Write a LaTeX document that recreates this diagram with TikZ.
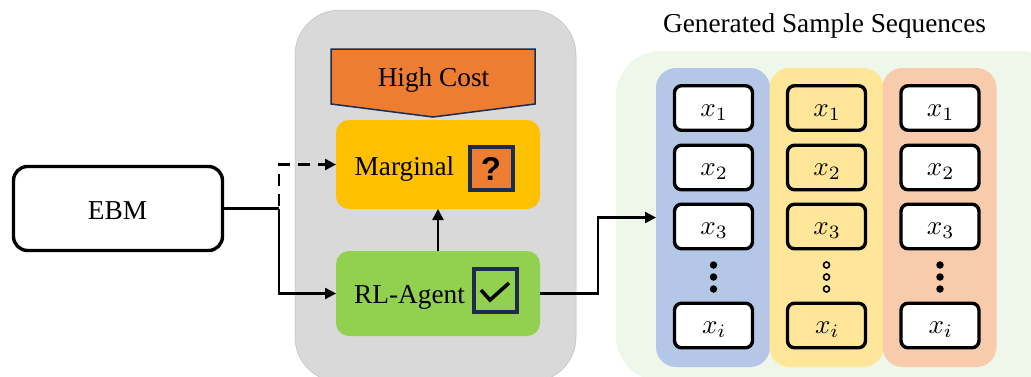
\documentclass[tikz,border=0pt]{standalone}
\usepackage{fontspec}
\setmainfont{Liberation Serif}
\newfontfamily\qfont{Liberation Sans}
\usetikzlibrary{arrows.meta,positioning}
\definecolor{navy}{HTML}{1B2C4C}
\definecolor{panelgray}{HTML}{D9D9D9}
\definecolor{panelgreen}{HTML}{EFF6EA}
\definecolor{costorange}{HTML}{ED7D31}
\definecolor{margyellow}{HTML}{FFC000}
\definecolor{agentgreen}{HTML}{92D050}
\definecolor{colblue}{HTML}{B4C7E7}
\definecolor{colyellow}{HTML}{FFE699}
\definecolor{colorange}{HTML}{F8CBAD}
\tikzset{
  x=1pt,y=-1pt,
  panel/.style={draw=none,rounded corners=#1,inner sep=0,outer sep=0},
  txt/.style={font=\fontsize{27.3}{30}\selectfont,inner sep=0,text=black},
  conn/.style={line width=2.4pt,-{Triangle[length=11pt,width=11pt]}},
  plainline/.style={line width=2.4pt},
  dashline/.style={line width=2.4pt,dash pattern=on 12pt off 8pt,dash phase=17pt,-{Triangle[length=11pt,width=11pt]}},
  sample/.style={draw=black,line width=3.4pt,rounded corners=7pt,minimum width=78pt,minimum height=44.5pt,inner sep=0,outer sep=0},
  whitebox/.style={sample,fill=white},
  yellowbox/.style={sample,fill=colyellow},
  soliddot/.style={circle,fill=black,minimum size=7.5pt,inner sep=0},
  ringdot/.style={circle,draw=black,line width=1.6pt,fill=colyellow,minimum size=6pt,inner sep=0},
  statusbox/.style={draw=navy,line width=4.4pt,minimum size=42.5pt,inner sep=0,outer sep=0},
}
\newcommand{\smplabel}[1]{\hspace{1.5pt}\raisebox{-8pt}[0pt][0pt]{\scalebox{2.7}{$#1$}}}
\begin{document}
\begin{tikzpicture}
\useasboundingbox (0,0) rectangle (1031,376);
\clip (0,0) rectangle (1031,376);
\fill[white] (0,0) rectangle (1031,376);
% panels
\node[panel=45pt,fill=panelgray,draw=black!25,line width=.5pt,minimum width=281pt,minimum height=372pt] (gray) at (435.5,196) {};
\node[panel=45pt,fill=panelgreen,minimum width=450pt,minimum height=330pt] (greenp) at (841,216) {};
\node[panel=20pt,fill=colblue,minimum width=114pt,minimum height=299pt] (cola) at (713,217.5) {};
\node[panel=20pt,fill=colyellow,minimum width=114pt,minimum height=299pt] (colb) at (826.5,217.5) {};
\node[panel=20pt,fill=colorange,minimum width=114pt,minimum height=299pt] (colc) at (939.5,217.5) {};
% title
\node[txt] (title) at (824.5,26) {Generated Sample Sequences};
% EBM
\node[draw=black,line width=3.4pt,rounded corners=14pt,fill=white,minimum width=209pt,minimum height=84pt,inner sep=0,outer sep=0] (ebm) at (118,208.5) {};
\node[txt,anchor=base] (ebmt) at (117.5,219) {EBM};
% high cost
\draw[navy,line width=1.5pt,fill=costorange] (331,49) -- (535,49) -- (535,104) -- (433,117) -- (331,104) -- cycle;
\node[txt,anchor=base] (cost) at (433.5,86.5) {High Cost};
% marginal / agent
\node[panel=13pt,fill=margyellow,minimum width=204pt,minimum height=89pt] (marg) at (438,164.5) {};
\node[panel=13pt,fill=agentgreen,minimum width=204pt,minimum height=85pt] (agent) at (438,293.5) {};
\node[txt,anchor=base west] (margt) at (354.5,175) {Marginal};
\node[txt,anchor=base west] (agentt) at (354,303.5) {RL-Agent};
\node[statusbox,fill=costorange] (q) at (491.5,168.5) {};
\node[font=\qfont\bfseries\fontsize{33}{34}\selectfont,inner sep=0] (qm) at (491,169) {?};
\node[statusbox,fill=agentgreen] (c) at (495.5,290.5) {};
\draw[black,line width=3.6pt] (481,290) -- (490,300) -- (509,283);
% connectors
\coordinate (split) at (279,208.5);
\draw[plainline] (ebm.east) -- (split);
\draw[conn] (split) |- (agent.west);
\draw[dashline] (split) |- (marg.west);
\draw[conn] (agent.north) -- (marg.south);
\coordinate (turn) at (598,293.5);
\draw[conn] (agent.east) -- (turn) |- (cola.west);
% samples
\foreach \col/\cx/\sty in {a/713.5/whitebox,b/826.5/yellowbox,c/940/whitebox}{
  \node[\sty] (\col1) at (\cx,108) {\smplabel{x_1}};
  \node[\sty] (\col2) at (\cx,167.5) {\smplabel{x_2}};
  \node[\sty] (\col3) at (\cx,226.5) {\smplabel{x_3}};
  \node[\sty] (\col4) at (\cx,325.5) {\smplabel{x_i}};
}
\foreach \yy/\n in {265/1,277/2,289/3}{
  \node[soliddot] (da\n) at (713.5,\yy) {};
  \node[ringdot] (db\n) at (826.5,\yy) {};
  \node[soliddot] (dc\n) at (940,\yy) {};
}
\end{tikzpicture}
\end{document}
